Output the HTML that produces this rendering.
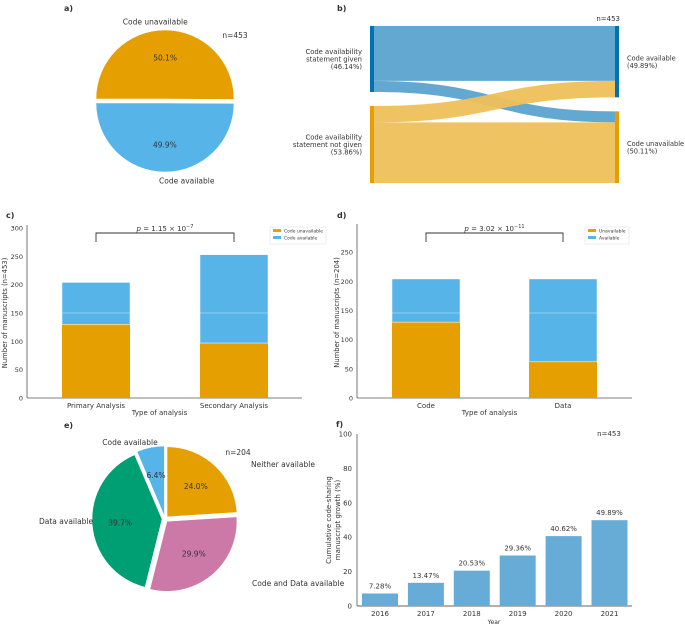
<!DOCTYPE html>
<html><head><meta charset="utf-8"><style>
html,body{margin:0;padding:0;background:#fff}
svg{display:block;font-family:"DejaVu Sans","Liberation Sans",sans-serif}
text{fill:#333}
</style></head><body>
<svg id="fig" width="685" height="625" viewBox="0 0 685 625"></svg>
<script>
// Panel a
const aLabels=["Code unavailable","Code available"];
const aValues=[50.1,49.9];
// Panel b sankey (percent)
const bLeftLabels=[["Code availability","statement given","(46.14%)"],["Code availability","statement not given","(53.86%)"]];
const bRightLabels=[["Code available","(49.89%)"],["Code unavailable","(50.11%)"]];
const bFlows=[[0,0,38.4],[0,1,7.74],[1,0,11.49],[1,1,42.37]];
// Panel c
const cCats=["Primary Analysis","Secondary Analysis"];
const cUnavail=[130,97];
const cAvail=[74,156];
const cTicks=[0,50,100,150,200,250,300];
// Panel d
const dCats=["Code","Data"];
const dUnavail=[130,62];
const dAvail=[74,142];
const dTicks=[0,50,100,150,200,250];
// Panel e
const eLabels=["Neither available","Code and Data available","Data available","Code available"];
const eValues=[24.0,29.9,39.7,6.4];
// Panel f
const fYears=["2016","2017","2018","2019","2020","2021"];
const fValues=[7.28,13.47,20.53,29.36,40.62,49.89];
const fTicks=[0,20,40,60,80,100];

const NS="http://www.w3.org/2000/svg";
const svg=document.getElementById('fig');
function el(tag,attrs,parent,txt){const e=document.createElementNS(NS,tag);for(const k in attrs)e.setAttribute(k,attrs[k]);if(txt!==undefined)e.textContent=txt;(parent||svg).appendChild(e);return e;}
function grp(name){const g=el('g',{});return g;}
function txt(g,x,y,s,size,anchor,name,extra){const t=el('text',Object.assign({x:x,y:y,'font-size':size,'text-anchor':anchor||'middle'},extra||{}),g,s);return t;}
function pt(cx,cy,r,deg){const a=deg*Math.PI/180;return [cx+r*Math.sin(a),cy-r*Math.cos(a)];}
function wedge(g,cx,cy,r,a0,a1,explode,fill,name){
  const mid=(a0+a1)/2;const o=pt(0,0,explode,mid);const x=cx+o[0],y=cy+o[1];
  const p0=pt(x,y,r,a0),p1=pt(x,y,r,a1);const large=(a1-a0)>180?1:0;
  const p=el('path',{d:`M${x},${y}L${p0[0]},${p0[1]}A${r},${r} 0 ${large} 1 ${p1[0]},${p1[1]}Z`,fill:fill,stroke:'#fff','stroke-width':0.5},g);
  return [x,y,mid];
}
function panelLabel(x,y,s){const t=el('text',{x:x,y:y,'font-size':8,'font-weight':'bold'},svg,s);}

// ---- Panel a
panelLabel(64,11,"a)");
{const g=grp('pie-a');const cx=165,cy=101,r=69;const cols=["#e69f00","#56b4e9"];
 const tot=aValues.reduce((a,b)=>a+b,0);let a0=-90;
 aValues.forEach((v,i)=>{const a1=a0+v/tot*360;const [x,y,mid]=wedge(g,cx,cy,r,a0,a1,2,cols[i],'slice-'+i);
  const lp=pt(x,y,r*0.6,mid);txt(g,lp[0],lp[1]+3,v.toFixed(1)+"%",7.5,'middle','pct-label-'+i);
  const op=pt(x,y,r*1.12,mid);txt(g,op[0]+(i?22:-10),op[1]+3,aLabels[i],7.5,'middle','slice-label-'+i);a0=a1;});
 txt(g,235,38,"n=453",7.5,'middle','n-label');}

// ---- Panel b sankey
panelLabel(337,11,"b)");
{const g=grp('sankey-b');const top=26,bot=183,gap=14,xl=370,xr=615,nw=4;
 const tot=100,scale=(bot-top-gap)/tot;
 const lSizes=[0,1].map(i=>bFlows.filter(f=>f[0]===i).reduce((a,f)=>a+f[2],0));
 const rSizes=[0,1].map(i=>bFlows.filter(f=>f[1]===i).reduce((a,f)=>a+f[2],0));
 const lY=[top,top+lSizes[0]*scale+gap],rY=[top,top+rSizes[0]*scale+gap];
 const lOff=[...lY],rOff=[...rY];
 const fcol=["#5ba3cf","#eec05a"];
 bFlows.forEach((f,i)=>{const h=f[2]*scale;const y0=lOff[f[0]],y1=rOff[f[1]];lOff[f[0]]+=h;rOff[f[1]]+=h;
  const x0=xl+nw,x1=xr,xm=(x0+x1)/2;
  const p=el('path',{d:`M${x0},${y0}C${xm},${y0} ${xm},${y1} ${x1},${y1}L${x1},${y1+h}C${xm},${y1+h} ${xm},${y0+h} ${x0},${y0+h}Z`,fill:fcol[f[0]],'fill-opacity':0.95},g);
  });
 const ncol=["#0072b2","#e69f00"];
 [0,1].forEach(i=>{let r=el('rect',{x:xl,y:lY[i],width:nw,height:lSizes[i]*scale,fill:ncol[i]},g);
  r=el('rect',{x:xr,y:rY[i],width:nw,height:rSizes[i]*scale,fill:ncol[i]},g);
  const lc=lY[i]+lSizes[i]*scale/2;bLeftLabels[i].forEach((s,k)=>txt(g,362,lc-5+k*7.5,s,6.8,'end','left-label-'+i+'-'+k));
  const rc=rY[i]+rSizes[i]*scale/2;bRightLabels[i].forEach((s,k)=>txt(g,627,rc-1+k*7.5,s,6.6,'start','right-label-'+i+'-'+k));});
 txt(g,620,21,"n=453",7,'end','n-label');}

// ---- stacked bar helper
function stacked(name,x0,x1,yb,yt,maxV,ticks,cats,un,av,centers,bw,ylab,lp,legend,legX,legW,ylx){
 const g=grp(name);const ys=v=>yb-(v/maxV)*(yb-yt);
 let l=el('line',{x1:x0,y1:yt-3,x2:x0,y2:yb,stroke:'#555','stroke-width':0.8},g);
 l=el('line',{x1:x0,y1:yb,x2:x1,y2:yb,stroke:'#555','stroke-width':0.8},g);
 ticks.forEach(t=>txt(g,x0-4,ys(t)+2.5,String(t),6.5,'end','y-tick-'+t));
 cats.forEach((c,i)=>{const cx=centers[i];
  let r=el('rect',{x:cx-bw/2,y:ys(un[i]),width:bw,height:ys(0)-ys(un[i]),fill:'#e69f00'},g);
  r=el('rect',{x:cx-bw/2,y:ys(un[i]+av[i]),width:bw,height:ys(un[i])-ys(un[i]+av[i]),fill:'#56b4e9',stroke:'#fff','stroke-width':0.5},g);
  r=el('line',{x1:cx-bw/2,x2:cx+bw/2,y1:313,y2:313,stroke:'#fff','stroke-opacity':0.35,'stroke-width':1},g);
  txt(g,cx,yb+10,c,7,'middle','x-tick-'+i);});
 txt(g,(x0+x1)/2-5,yb+17,"Type of analysis",7,'middle','x-axis-title');
 const yl=txt(g,0,0,ylab,6.8,'middle','y-axis-title');yl.setAttribute('transform',`translate(${ylx},${(yt+yb)/2}) rotate(-90)`);
 const br=el('path',{d:`M${centers[0]},242V233H${centers[1]}V242`,fill:'none',stroke:'#333','stroke-width':0.9},g);
 const pt_=txt(g,(centers[0]+centers[1])/2,231,"",7,'middle','p-value');
 pt_.innerHTML='<tspan font-style="italic">p</tspan> = '+lp+' × 10<tspan font-size="5" dy="-3">'+(name==='bar-c'?'−7':'−11')+'</tspan>';
 const lg=grp(name+'-legend');g.appendChild(lg);
 let r=el('rect',{x:legX,y:227,width:legW,height:17,fill:'#fff',stroke:'#ddd','stroke-width':0.5},lg);
 ['#e69f00','#56b4e9'].forEach((c,k)=>{r=el('rect',{x:legX+3,y:229+k*7,width:8,height:3,fill:c},lg);
  txt(lg,legX+14,232.5+k*7,legend[k],4.5,'start','legend-entry-'+k);});
}
panelLabel(6,218,"c)");
stacked('bar-c',27,302,398,228,300,cTicks,cCats,cUnavail,cAvail,[96,234],68,"Number of manuscripts (n=453)","1.15",["Code unavailable","Code available"],270,56,7);
panelLabel(337,218,"d)");
stacked('bar-d',357,632,398,227,293,dTicks,dCats,dUnavail,dAvail,[426,563],68,"Number of manuscripts (n=204)","3.02",["Unavailable","Available"],585,44,339);

// ---- Panel e
panelLabel(64,428,"e)");
{const g=grp('pie-e');const cx=165,cy=519,r=70;const cols=["#e69f00","#cc79a7","#009e73","#56b4e9"];
 const tot=eValues.reduce((a,b)=>a+b,0);let a0=0;
 const lpos=[[251,467,'start'],[252,586,'start'],[39,524,'start'],[130,445,'middle']];
 eValues.forEach((v,i)=>{const a1=a0+v/tot*360;const [x,y,mid]=wedge(g,cx,cy,r,a0,a1,3,cols[i],'slice-'+i);
  const lp=pt(x,y,r*0.6,mid);txt(g,lp[0],lp[1]+3,v.toFixed(1)+"%",7.5,'middle','pct-label-'+i);
  txt(g,lpos[i][0],lpos[i][1],eLabels[i],7.5,lpos[i][2],'slice-label-'+i);a0=a1;});
 txt(g,238,455,"n=204",7.5,'middle','n-label');}

// ---- Panel f
panelLabel(336,427,"f)");
{const g=grp('bar-f');const x0=357,x1=632,yb=606,yt=434;const ys=v=>yb-v/100*(yb-yt);
 let l=el('line',{x1:x0,y1:yt,x2:x0,y2:yb,stroke:'#555','stroke-width':0.8},g);
 l=el('line',{x1:x0,y1:yb,x2:x1,y2:yb,stroke:'#333','stroke-width':0.8},g);
 fTicks.forEach(t=>txt(g,x0-5,ys(t)+2.5,String(t),7,'end','y-tick-'+t));
 const step=45.9,bw=36;
 fYears.forEach((yr,i)=>{const cx=380+i*step;
  const r=el('rect',{x:cx-bw/2,y:ys(fValues[i]),width:bw,height:yb-ys(fValues[i]),fill:'#66acd6'},g);
  txt(g,cx,ys(fValues[i])-5,fValues[i].toFixed(2)+"%",7,'middle','value-label-'+yr);
  txt(g,cx,yb+10,yr,7,'middle','x-tick-'+yr);});
 txt(g,494,624,"Year",6,'middle','x-axis-title');
 let t=txt(g,0,0,"Cumulative code-sharing",7,'middle','y-axis-title-1');t.setAttribute('transform','translate(331,520) rotate(-90)');
 t=txt(g,0,0,"manuscript growth (%)",7,'middle','y-axis-title-2');t.setAttribute('transform','translate(340,520) rotate(-90)');
 txt(g,609,436,"n=453",7,'middle','n-label');}
</script>
</body></html>
